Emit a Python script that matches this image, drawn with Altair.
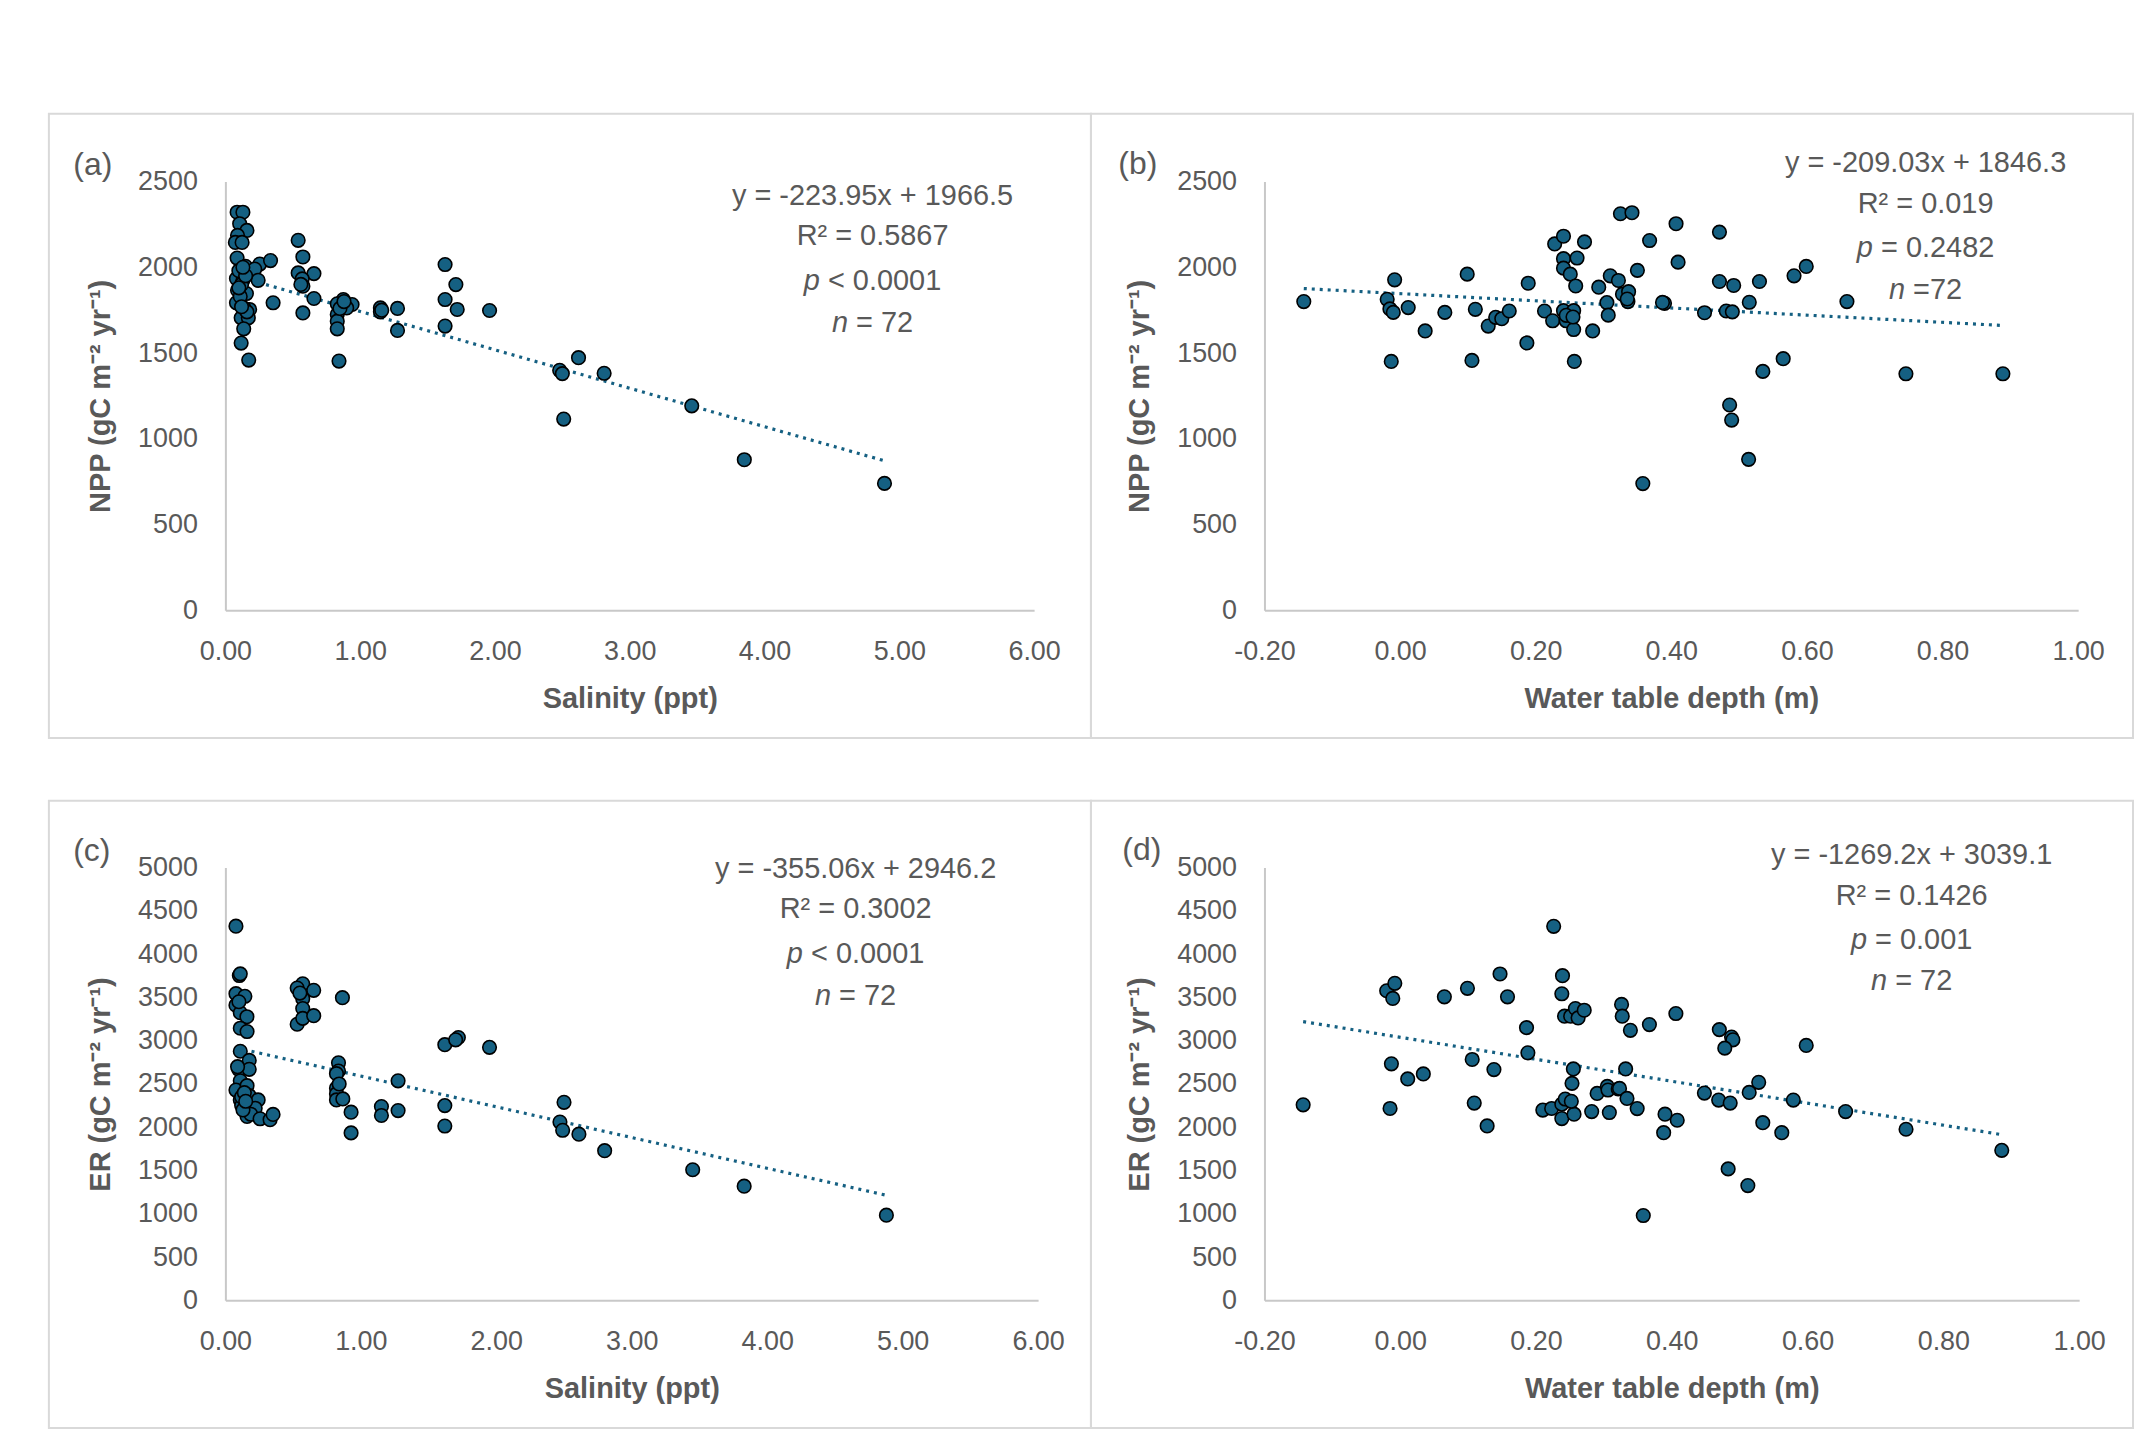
import altair as alt
import pandas as pd

# ---------------- data ----------------
# (a) NPP vs salinity
a_sal = [0.087, 0.13, 0.106, 0.16, 0.09, 0.074, 0.124, 0.087, 0.149, 0.255,
         0.335, 0.218, 0.082, 0.13, 0.243, 0.09, 0.156, 0.082, 0.18, 0.117,
         0.17, 0.136, 0.117, 0.173, 0.354, 0.54, 0.575, 0.54, 0.657, 0.57,
         0.575, 0.657, 0.575, 0.875, 0.94, 0.83, 0.83, 0.83, 0.83, 0.843,
         0.9, 1.15, 1.15, 1.277, 1.277, 1.63, 1.71, 1.63, 1.72, 1.63,
         1.96, 2.48, 2.50, 2.62, 2.81, 2.51, 3.46, 3.85, 4.89,
         0.10, 0.12, 0.15, 0.11, 0.14, 0.16, 0.12, 0.10, 0.13, 0.85, 0.88, 0.56, 1.16]
a_npp = [2321, 2321, 2254, 2215, 2186, 2145, 2145, 2054, 2006, 2019,
         2039, 1990, 1934, 1924, 1924, 1866, 1847, 1793, 1754, 1705,
         1705, 1641, 1558, 1459, 1793, 2157, 2060, 1967, 1963, 1932,
         1890, 1818, 1734, 1812, 1783, 1787, 1725, 1686, 1641, 1453,
         1763, 1763, 1740, 1760, 1632, 2016, 1899, 1812, 1754, 1657,
         1748, 1399, 1380, 1473, 1382, 1115, 1192, 878, 740,
         1980, 1900, 1950, 1830, 1760, 1740, 1770, 1880, 2000, 1760, 1800, 1900, 1750]

# (b) NPP vs water table depth
b_wtd = [-0.142, -0.008, -0.019, -0.015, -0.010, 0.012, -0.013, 0.037, 0.066, 0.099,
         0.111, 0.106, 0.130, 0.141, 0.150, 0.161, 0.189, 0.187, 0.213, 0.225,
         0.228, 0.241, 0.272, 0.241, 0.241, 0.251, 0.261, 0.259, 0.241, 0.256,
         0.245, 0.256, 0.257, 0.284, 0.293, 0.310, 0.322, 0.305, 0.307, 0.328,
         0.337, 0.336, 0.325, 0.342, 0.350, 0.368, 0.358, 0.390, 0.407, 0.410,
         0.471, 0.471, 0.492, 0.530, 0.581, 0.599, 0.515, 0.449, 0.481, 0.490,
         0.659, 0.535, 0.565, 0.746, 0.889, 0.486, 0.489, 0.514,
         0.387, 0.245, 0.335, 0.255]
b_npp = [1800, 1927, 1813, 1757, 1737, 1765, 1451, 1629, 1737, 1960,
         1755, 1457, 1657, 1708, 1700, 1745, 1907, 1559, 1745, 1688,
         2136, 2181, 2148, 2050, 1995, 1960, 2054, 1891, 1747, 1747,
         1688, 1637, 1451, 1629, 1884, 1950, 1923, 1794, 1721, 1843,
         1858, 1800, 2312, 2318, 1982, 2156, 739, 1790, 2254, 2030,
         2205, 1917, 1894, 1917, 1950, 2005, 1796, 1735, 1745, 1740,
         1800, 1393, 1467, 1379, 1379, 1197, 1109, 880,
         1795, 1720, 1815, 1710]

# (c) ER vs salinity
c_sal = [0.078, 0.103, 0.11, 0.078, 0.144, 0.078, 0.11, 0.159, 0.11, 0.16,
         0.11, 0.176, 0.098, 0.176, 0.11, 0.078, 0.16, 0.176, 0.11, 0.12,
         0.188, 0.242, 0.22, 0.16, 0.188, 0.256, 0.33, 0.352, 0.53, 0.571,
         0.53, 0.652, 0.571, 0.571, 0.571, 0.652, 0.864, 0.835, 0.835, 0.82,
         0.82, 0.82, 0.82, 0.867, 0.928, 0.928, 1.152, 1.152, 1.275, 1.275,
         1.62, 1.72, 1.70, 1.95, 1.62, 1.62, 2.50, 2.47, 2.49, 2.61,
         2.80, 3.45, 3.83, 4.88,
         0.09, 0.12, 0.14, 0.13, 0.15, 0.10, 0.84, 0.55]
c_er = [4323, 3753, 3772, 3543, 3513, 3410, 3323, 3277, 3144, 3106,
        2878, 2772, 2669, 2669, 2536, 2430, 2480, 2365, 2316, 2250,
        2231, 2316, 2220, 2125, 2150, 2098, 2087, 2148, 3190, 3657,
        3608, 3582, 3486, 3372, 3258, 3289, 3497, 2744, 2650, 2619,
        2452, 2385, 2316, 2327, 2174, 1935, 2239, 2136, 2536, 2193,
        2954, 3037, 3010, 2923, 2250, 2014, 2288, 2060, 1965, 1920,
        1729, 1509, 1319, 984,
        2700, 2350, 2400, 2200, 2300, 3450, 2500, 3550]

# (d) ER vs water table depth
d_wtd = [-0.143, -0.020, -0.008, -0.011, -0.013, -0.015, 0.011, 0.034, 0.065, 0.099,
         0.106, 0.109, 0.138, 0.128, 0.147, 0.158, 0.186, 0.188, 0.226, 0.239,
         0.238, 0.242, 0.251, 0.258, 0.262, 0.271, 0.255, 0.253, 0.210, 0.223,
         0.238, 0.243, 0.238, 0.256, 0.282, 0.308, 0.290, 0.305, 0.306, 0.321,
         0.326, 0.327, 0.339, 0.332, 0.323, 0.334, 0.349, 0.367, 0.406, 0.390,
         0.408, 0.388, 0.358, 0.448, 0.470, 0.488, 0.490, 0.478, 0.469, 0.486,
         0.514, 0.528, 0.534, 0.483, 0.512, 0.562, 0.579, 0.598, 0.656, 0.745,
         0.886, 0.252]
d_er = [2259, 3577, 3663, 3488, 2733, 2217, 2558, 2616, 3507, 3605,
        2783, 2279, 2666, 2015, 3771, 3507, 3151, 2860, 4321, 3751,
        3542, 3283, 3283, 3372, 3263, 3352, 2674, 2507, 2198, 2217,
        2267, 2326, 2100, 2151, 2181, 2170, 2391, 2472, 2430, 2442,
        3419, 3283, 3120, 2674, 2449, 2333, 2216, 3186, 3314, 2151,
        2081, 1937, 980, 2395, 3128, 3042, 3010, 2914, 2314, 2279,
        2402, 2519, 2053, 1519, 1326, 1937, 2314, 2945, 2181, 1977,
        1733, 2300]

# trend-line coefficients printed in the panels
slopes = [-223.95, -209.03, -355.06, -1269.2]
intercepts = [1966.5, 1846.3, 2946.2, 3039.1]
eq_texts = ["y = -223.95x + 1966.5", "y = -209.03x + 1846.3",
            "y = -355.06x + 2946.2", "y = -1269.2x + 3039.1"]
r2_texts = ["R\u00b2 = 0.5867", "R\u00b2 = 0.019", "R\u00b2 = 0.3002", "R\u00b2 = 0.1426"]
p_texts = ["< 0.0001", "= 0.2482", "< 0.0001", "= 0.001"]
n_texts = ["= 72", "=72", "= 72", "= 72"]
panel_labels = ["(a)", "(b)", "(c)", "(d)"]

sal_ticks = [0, 1, 2, 3, 4, 5, 6]
wtd_ticks = [-0.2, 0.0, 0.2, 0.4, 0.6, 0.8, 1.0]
npp_ticks = [0, 500, 1000, 1500, 2000, 2500]
er_ticks = [0, 500, 1000, 1500, 2000, 2500, 3000, 3500, 4000, 4500, 5000]

NPP_TITLE = "NPP (gC m\u207b\u00b2 yr\u207b\u00b9)"
ER_TITLE = "ER (gC m\u207b\u00b2 yr\u207b\u00b9)"

# ---------------- styling ----------------
BLUE = "#156082"
GRAY = "#595959"
BORDER = "#D9D9D9"
FONT = "Liberation Sans"
TICK_SIZE = 27
ANN_SIZE = 29
TITLE_SIZE = 29

W = {'.': 0.278, ' ': 0.278, '<': 0.584, '=': 0.584, 'p': 0.556, 'n': 0.556}


def twidth(s, size):
    return sum(W.get(c, 0.556) for c in s) * size


def txt(s, px, py, size, align="center", style="normal", weight="normal"):
    return alt.Chart(alt.Data(values=[{}])).mark_text(
        text=s, align=align, baseline="middle", font=FONT, fontSize=size,
        fontStyle=style, fontWeight=weight, color=GRAY
    ).encode(x=alt.value(px), y=alt.value(py))


def mixed(ital, rest, cx, py):
    gap = twidth(" ", ANN_SIZE)
    total = twidth(ital, ANN_SIZE) + gap + twidth(rest, ANN_SIZE)
    anchor = cx - total / 2 + twidth(ital, ANN_SIZE)
    return [txt(ital, anchor, py, ANN_SIZE, align="right", style="italic"),
            txt(rest, anchor + gap, py, ANN_SIZE, align="left")]


def panel(i, xs, ys, xdom, xvals, ydom, yvals, xtitle, ytitle, width, height,
          box, cx, lines_y, lab_xy):
    df = pd.DataFrame({"x": xs, "y": ys})
    xmin, xmax = min(xs), max(xs)
    trend = pd.DataFrame({"x": [xmin, xmax],
                          "y": [slopes[i] * xmin + intercepts[i],
                                slopes[i] * xmax + intercepts[i]]})
    xscale = alt.Scale(domain=xdom, nice=False, zero=False)
    yscale = alt.Scale(domain=ydom, nice=False, zero=False)
    xaxis = alt.Axis(values=xvals,
                     labelExpr="replace(format(datum.value, '.2f'), '\u2212', '-')",
                     labelFont=FONT, labelFontSize=TICK_SIZE, labelColor=GRAY,
                     labelPadding=28, labelFlush=False, labelOverlap=False,
                     ticks=False, grid=False, domainColor="#C8C8C8", domainWidth=2,
                     title=xtitle, titleFont=FONT, titleFontSize=TITLE_SIZE,
                     titleFontWeight="bold", titleColor=GRAY, titlePadding=20)
    yaxis = alt.Axis(values=yvals, format="d",
                     labelFont=FONT, labelFontSize=TICK_SIZE, labelColor=GRAY,
                     labelPadding=28, labelFlush=False, labelOverlap=False,
                     ticks=False, grid=False, domainColor="#C8C8C8", domainWidth=2,
                     title=ytitle, titleFont=FONT, titleFontSize=TITLE_SIZE,
                     titleFontWeight="bold", titleColor=GRAY, titlePadding=22)

    border = alt.Chart(alt.Data(values=[{}])).mark_rect(
        filled=False, stroke=BORDER, strokeWidth=2
    ).encode(x=alt.value(box[0]), x2=alt.value(box[1]),
             y=alt.value(box[2]), y2=alt.value(box[3]))

    line = alt.Chart(trend).mark_line(
        color=BLUE, strokeWidth=3.2, strokeDash=[3, 5]
    ).encode(x=alt.X("x:Q", scale=xscale, axis=xaxis),
             y=alt.Y("y:Q", scale=yscale, axis=yaxis))

    pts = alt.Chart(df).mark_circle(
        size=185, color=BLUE, opacity=1, stroke="black", strokeWidth=1.6
    ).encode(x=alt.X("x:Q", scale=xscale), y=alt.Y("y:Q", scale=yscale))

    texts = [txt(eq_texts[i], cx, lines_y[0], ANN_SIZE),
             txt(r2_texts[i], cx, lines_y[1], ANN_SIZE)]
    texts += mixed("p", p_texts[i], cx, lines_y[2])
    texts += mixed("n", n_texts[i], cx, lines_y[3])
    texts.append(txt(panel_labels[i], lab_xy[0], lab_xy[1], 32))

    return alt.layer(border, line, pts, *texts).properties(width=width, height=height)


pa = panel(0, a_sal, a_npp, [0, 6], sal_ticks, [0, 2500], npp_ticks,
           "Salinity (ppt)", NPP_TITLE, 811, 430,
           (-177, 868, -68, 558), 649, [15, 55, 100, 142], (-133, -17))
pb = panel(1, b_wtd, b_npp, [-0.2, 1.0], wtd_ticks, [0, 2500], npp_ticks,
           "Water table depth (m)", NPP_TITLE, 816, 430,
           (-174, 871, -68, 558), 663, [-19, 23, 67, 109], (-127, -18))
pc = panel(2, c_sal, c_er, [0, 6], sal_ticks, [0, 5000], er_ticks,
           "Salinity (ppt)", ER_TITLE, 815, 434,
           (-177, 868, -67, 562), 632, [1, 42, 87, 129], (-134, -17))
pd_ = panel(3, d_wtd, d_er, [-0.2, 1.0], wtd_ticks, [0, 5000], er_ticks,
            "Water table depth (m)", ER_TITLE, 817, 434,
            (-174, 871, -67, 562), 649, [-13, 29, 73, 114], (-123, -18))

chart = alt.concat(
    pa, pb, pc, pd_, columns=2,
    spacing={"row": 258, "column": 227}, bounds="flush", align="each",
).properties(
    padding={"left": 40, "top": 103, "right": 0, "bottom": 0},
    background="white",
).configure_view(strokeWidth=0)

chart.save("out.html", embed_options={"renderer": "svg", "actions": False})
